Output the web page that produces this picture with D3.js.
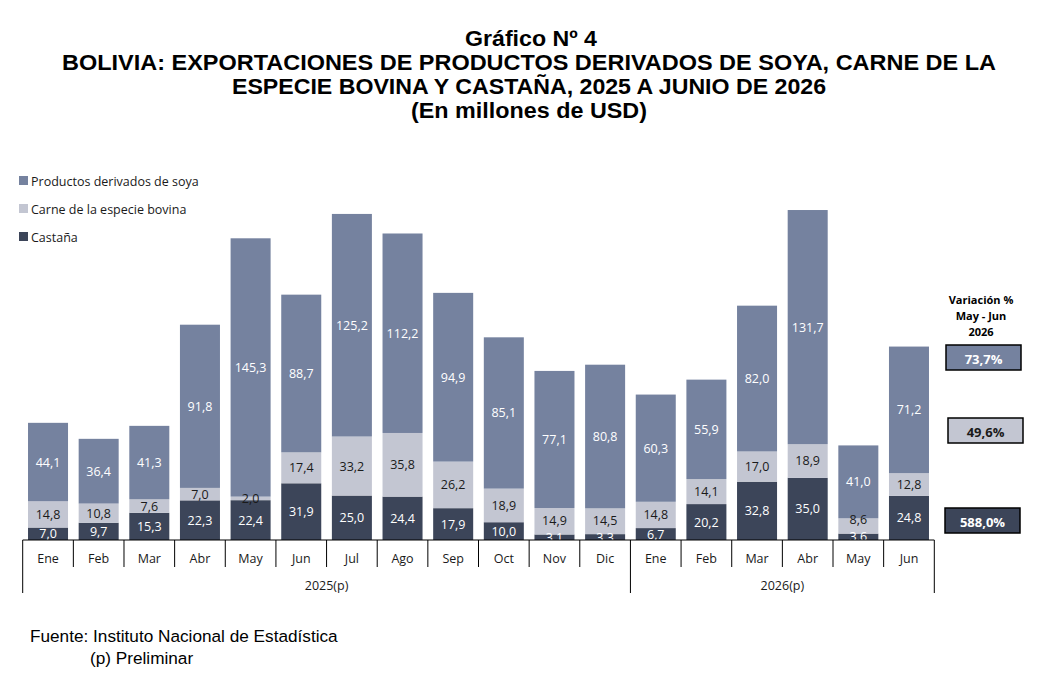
<!DOCTYPE html>
<html>
<head>
<meta charset="utf-8">
<script src="https://cdn.jsdelivr.net/npm/d3@7"></script>
<style>
  body { margin: 0; background: #fff; }
  svg { display: block; }
</style>
</head>
<body>
<div id="chart"></div>
<script>
// data
const months = ["Ene","Feb","Mar","Abr","May","Jun","Jul","Ago","Sep","Oct","Nov","Dic","Ene","Feb","Mar","Abr","May","Jun"];
const years = [{ label: "2025(p)", from: 0, to: 11 }, { label: "2026(p)", from: 12, to: 17 }];
const castana = [7.0, 9.7, 15.3, 22.3, 22.4, 31.9, 25.0, 24.4, 17.9, 10.0, 3.1, 3.3, 6.7, 20.2, 32.8, 35.0, 3.6, 24.8];
const carne = [14.8, 10.8, 7.6, 7.0, 2.0, 17.4, 33.2, 35.8, 26.2, 18.9, 14.9, 14.5, 14.8, 14.1, 17.0, 18.9, 8.6, 12.8];
const soya = [44.1, 36.4, 41.3, 91.8, 145.3, 88.7, 125.2, 112.2, 94.9, 85.1, 77.1, 80.8, 60.3, 55.9, 82.0, 131.7, 41.0, 71.2];
const seriesNames = ["Productos derivados de soya", "Carne de la especie bovina", "Castaña"];
const variacion = ["73,7%", "49,6%", "588,0%"];

const width = 1039, height = 689;
const colors = { soya: "#75829f", carne: "#c3c6d2", castana: "#3c4559" };
const font = "'Open Sans', 'Noto Sans', sans-serif";

const svg = d3.select("#chart").append("svg")
  .attr("width", width)
  .attr("height", height);

// Title (condensed like the original)
const titleLines = [
  "Gráfico Nº 4",
  "BOLIVIA: EXPORTACIONES DE PRODUCTOS DERIVADOS DE SOYA, CARNE DE LA",
  "ESPECIE BOVINA Y CASTAÑA, 2025 A JUNIO DE 2026",
  "(En millones de USD)"
];
const titleWidths = [132, 934, 594, 236];
svg.append("g").selectAll("text")
  .data(titleLines)
  .join("text")
  .attr("x", (d, i) => i == 0 ? 531 : 529)
  .attr("y", (d, i) => 46 + i * 24)
  .attr("text-anchor", "middle")
  .attr("font-family", "'Liberation Sans', Arial, sans-serif")
  .attr("font-weight", "bold")
  .attr("font-size", 22)
  .attr("fill", "#000")
  .attr("textLength", (d, i) => titleWidths[i])
  .attr("lengthAdjust", "spacingAndGlyphs")
  .text(d => d);

// Scales
const x = d3.scaleBand()
  .domain(months.map((d, i) => i))
  .range([22.7, 934.3])
  .paddingInner(0.21)
  .paddingOuter(0.105);

const y = d3.scaleLinear()
  .domain([0, 190])
  .range([540, 202.2]);

// stacked data
const rows = months.map((m, i) => ({ i: i, castana: castana[i], carne: carne[i], soya: soya[i] }));
const keys = ["castana", "carne", "soya"];
const stacked = d3.stack().keys(keys)(rows);

const fmt = v => d3.format(".1f")(v).replace(".", ",");
const labelColor = { castana: "#ffffff", carne: "#1a1a1a", soya: "#ffffff" };

const layers = svg.append("g").selectAll("g")
  .data(stacked)
  .join("g")
  .attr("fill", d => colors[d.key]);

layers.selectAll("rect")
  .data(d => d)
  .join("rect")
  .attr("x", d => x(d.data.i))
  .attr("y", d => y(d[1]))
  .attr("width", x.bandwidth())
  .attr("height", d => y(d[0]) - y(d[1]));

// value labels: centred, carne label lifted when castaña is tiny
svg.append("g").selectAll("g")
  .data(stacked)
  .join("g")
  .attr("fill", d => labelColor[d.key])
  .selectAll("text")
  .data(d => d.map(p => ({ p: p, key: d.key })))
  .join("text")
  .attr("x", d => x(d.p.data.i) + x.bandwidth() / 2)
  .attr("y", d => {
    const mid = (y(d.p[0]) + y(d.p[1])) / 2;
    if (d.key == "carne" && d.p[0] < 5) return Math.min(mid, y(d.p[0]) - 14);
    return mid;
  })
  .attr("dy", "0.36em")
  .attr("text-anchor", "middle")
  .attr("font-family", font)
  .attr("font-size", 12.5)
  .text(d => fmt(d.p[1] - d.p[0]));

// x axis with separators
const axisG = svg.append("g").attr("stroke", "#000").attr("stroke-width", 1);
axisG.append("line")
  .attr("x1", x.range()[0]).attr("x2", x.range()[1])
  .attr("y1", y(0)).attr("y2", y(0));

const step = x.step();
const boundaries = d3.range(months.length + 1).map(k => x.range()[0] + k * step);
const groupBounds = [0, 12, 18];
axisG.selectAll(".sep")
  .data(boundaries)
  .join("line")
  .attr("class", "sep")
  .attr("x1", d => d).attr("x2", d => d)
  .attr("y1", y(0))
  .attr("y2", (d, k) => groupBounds.includes(k) ? 593 : 567);

svg.append("g").selectAll("text")
  .data(months)
  .join("text")
  .attr("x", (d, i) => x(i) + x.bandwidth() / 2)
  .attr("y", 558)
  .attr("dy", "0.36em")
  .attr("text-anchor", "middle")
  .attr("font-family", font)
  .attr("font-size", 12.5)
  .attr("fill", "#1a1a1a")
  .text(d => d);

svg.append("g").selectAll("text")
  .data(years)
  .join("text")
  .attr("x", d => (boundaries[d.from] + boundaries[d.to + 1]) / 2)
  .attr("y", 585)
  .attr("dy", "0.36em")
  .attr("text-anchor", "middle")
  .attr("font-family", font)
  .attr("font-size", 12.5)
  .attr("fill", "#1a1a1a")
  .text(d => d.label);

// Legend
const legendKeys = ["soya", "carne", "castana"];
const legend = svg.append("g").selectAll("g")
  .data(seriesNames)
  .join("g")
  .attr("transform", (d, i) => "translate(19," + (181 + i * 28) + ")");
legend.append("rect")
  .attr("x", 0).attr("y", -5)
  .attr("width", 9).attr("height", 9)
  .attr("fill", (d, i) => colors[legendKeys[i]]);
legend.append("text")
  .attr("x", 12)
  .attr("y", 0)
  .attr("dy", "0.36em")
  .attr("font-family", font)
  .attr("font-size", 12.5)
  .attr("fill", "#1a1a1a")
  .text(d => d);

// Variation boxes
const varHead = ["Variación %", "May - Jun", "2026"];
svg.append("g").selectAll("text")
  .data(varHead)
  .join("text")
  .attr("x", 981)
  .attr("y", (d, i) => 300 + i * 16)
  .attr("dy", "0.36em")
  .attr("text-anchor", "middle")
  .attr("font-family", font)
  .attr("font-weight", "bold")
  .attr("font-size", 11)
  .attr("fill", "#000")
  .text(d => d);

const boxPos = [{ x: 946, y: 345 }, { x: 948, y: 418 }, { x: 945, y: 508 }];
const boxText = ["#ffffff", "#1a1a1a", "#ffffff"];
const boxes = svg.append("g").selectAll("g")
  .data(variacion)
  .join("g")
  .attr("transform", (d, i) => "translate(" + boxPos[i].x + "," + boxPos[i].y + ")");
boxes.append("rect")
  .attr("width", 75)
  .attr("height", 25)
  .attr("fill", (d, i) => colors[legendKeys[i]])
  .attr("stroke", "#000")
  .attr("stroke-width", 1.5);
boxes.append("text")
  .attr("x", 37.5)
  .attr("y", 14)
  .attr("dy", "0.36em")
  .attr("text-anchor", "middle")
  .attr("font-family", font)
  .attr("font-weight", "bold")
  .attr("font-size", 13)
  .attr("fill", (d, i) => boxText[i])
  .text(d => d);

// Source
svg.append("text")
  .attr("x", 30).attr("y", 642)
  .attr("font-family", "'Liberation Sans', Arial, sans-serif")
  .attr("font-size", 17.2)
  .attr("fill", "#000")
  .text("Fuente: Instituto Nacional de Estadística");
svg.append("text")
  .attr("x", 90).attr("y", 664)
  .attr("font-family", "'Liberation Sans', Arial, sans-serif")
  .attr("font-size", 17.2)
  .attr("fill", "#000")
  .text("(p) Preliminar");
</script>
</body>
</html>
